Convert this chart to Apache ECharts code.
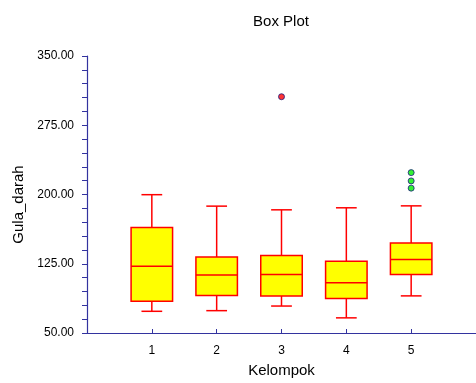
<!DOCTYPE html>
<html>
<head>
<meta charset="utf-8">
<script src="https://cdn.jsdelivr.net/npm/echarts@6/dist/echarts.min.js"></script>
<style>html,body{margin:0;padding:0;background:#fff}#c{width:476px;height:383px}</style>
</head>
<body>
<div id="c"></div>
<script>
const groups = [1, 2, 3, 4, 5];
const lows = [73.5, 74.2, 79.2, 66.4, 90.2];
const q1s = [84.5, 90.6, 90.2, 87.4, 113.3];
const medians = [122.3, 112.7, 113.3, 104.4, 129.7];
const q3s = [164.2, 132.2, 134.0, 127.6, 147.5];
const highs = [199.8, 187.4, 183.4, 185.6, 187.7];
const outlierGroups = [3, 5, 5, 5];
const outlierValues = [305.9, 223.7, 214.7, 206.9];
const outlierColors = ['#ff0000', '#00ee00', '#00ee00', '#00ee00'];

const FONT = 'Liberation Sans, Arial, sans-serif';
const AXIS = '#33339f';

const boxData = groups.map((g, i) => [g, lows[i], q1s[i], medians[i], q3s[i], highs[i]]);
const outData = outlierGroups.map((g, i) => ({ value: [g, outlierValues[i]], itemStyle: { color: outlierColors[i] } }));

const chart = echarts.init(document.getElementById('c'));
chart.setOption({
  animation: false,
  backgroundColor: '#fff',
  title: {
    text: 'Box Plot', left: 276, top: 9, textAlign: 'center',
    textStyle: { fontFamily: FONT, fontSize: 15, fontWeight: 'normal', color: '#000' }
  },
  grid: { left: 87, right: 0, top: 56, bottom: 46, containLabel: false },
  xAxis: {
    type: 'value', min: 0, max: 6, interval: 1,
    name: 'Kelompok', nameLocation: 'middle', nameGap: 30,
    nameTextStyle: { fontFamily: FONT, fontSize: 15, color: '#000' },
    axisLine: { show: true, lineStyle: { color: AXIS, width: 1.2 } },
    axisTick: { show: true, inside: true, length: 4, customValues: groups, lineStyle: { color: AXIS } },
    axisLabel: {
      fontFamily: FONT, fontSize: 12, color: '#000', margin: 12,
      customValues: groups,
      formatter: v => String(v)
    },
    splitLine: { show: false }
  },
  yAxis: {
    type: 'value', min: 50, max: 350, interval: 75,
    name: 'Gula_darah', nameLocation: 'middle', nameGap: 60,
    nameTextStyle: { fontFamily: FONT, fontSize: 15, color: '#000', padding: [0, 20, 0, 0] },
    axisLine: { show: true, lineStyle: { color: AXIS, width: 1.2 } },
    axisTick: { show: true, length: 5, lineStyle: { color: AXIS } },
    minorTick: { show: true, splitNumber: 5, length: 5, lineStyle: { color: AXIS } },
    axisLabel: {
      fontFamily: FONT, fontSize: 12, color: '#000', margin: 13,
      formatter: v => v.toFixed(2)
    },
    splitLine: { show: false }
  },
  series: [
    {
      type: 'custom',
      data: boxData,
      renderItem: function (params, api) {
        const x = api.value(0);
        const lo = api.coord([x, api.value(1)]);
        const q1 = api.coord([x, api.value(2)]);
        const md = api.coord([x, api.value(3)]);
        const q3 = api.coord([x, api.value(4)]);
        const hi = api.coord([x, api.value(5)]);
        const halfW = api.size([0.64, 0])[0] / 2;
        const capW = halfW / 2;
        const cx = lo[0];
        const ls = { stroke: '#ff0000', lineWidth: 1.5 };
        return {
          type: 'group',
          children: [
            { type: 'line', shape: { x1: cx, y1: hi[1], x2: cx, y2: q3[1] }, style: ls },
            { type: 'line', shape: { x1: cx, y1: q1[1], x2: cx, y2: lo[1] }, style: ls },
            { type: 'line', shape: { x1: cx - capW, y1: hi[1], x2: cx + capW, y2: hi[1] }, style: ls },
            { type: 'line', shape: { x1: cx - capW, y1: lo[1], x2: cx + capW, y2: lo[1] }, style: ls },
            { type: 'rect', shape: { x: cx - halfW, y: q3[1], width: halfW * 2, height: q1[1] - q3[1] },
              style: { fill: '#ffff00', stroke: '#ff0000', lineWidth: 1.5 } },
            { type: 'line', shape: { x1: cx - halfW, y1: md[1], x2: cx + halfW, y2: md[1] }, style: ls }
          ]
        };
      }
    },
    {
      type: 'scatter',
      data: outData,
      symbol: 'circle',
      symbolSize: 6,
      itemStyle: { borderColor: '#1a1a80', borderWidth: 1 }
    }
  ]
});
</script>
</body>
</html>
